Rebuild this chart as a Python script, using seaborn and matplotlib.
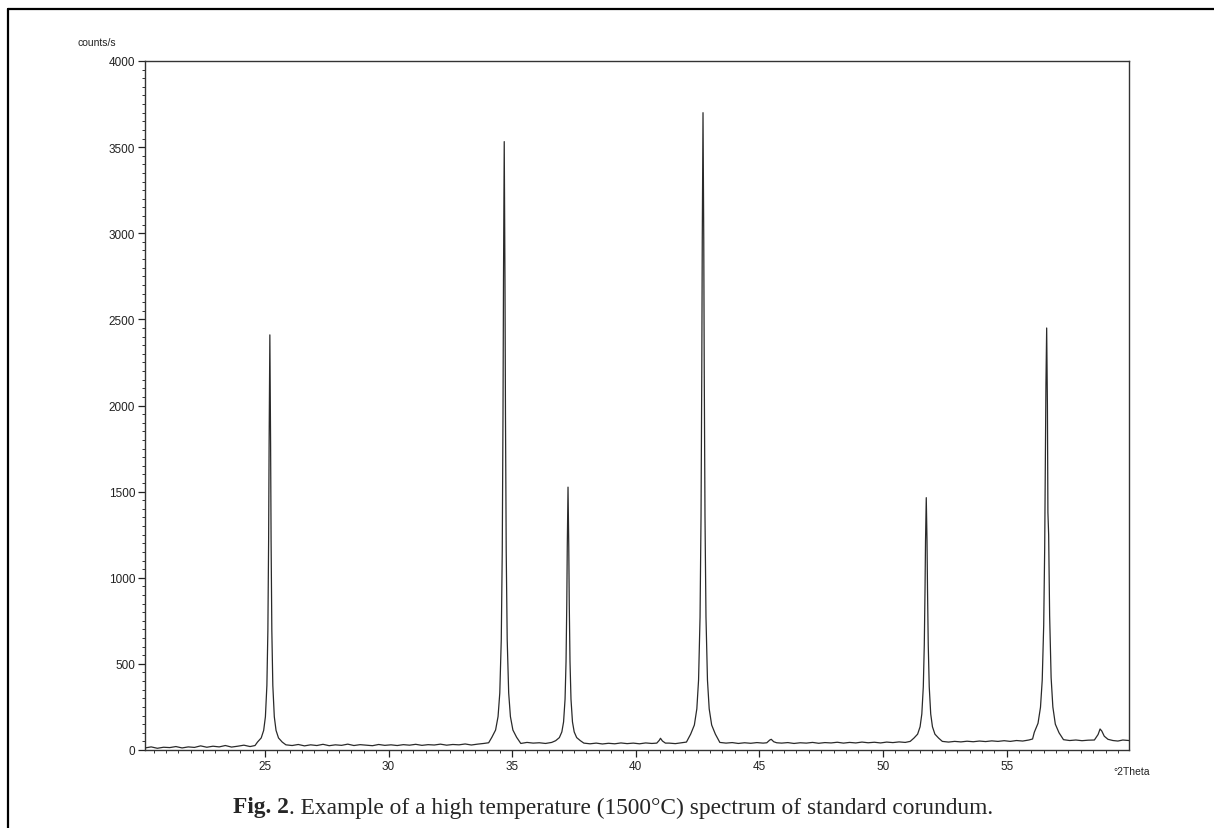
import pandas as pd
import numpy as np
import matplotlib
matplotlib.use('Agg')
import matplotlib.pyplot as plt
import seaborn as sns
from matplotlib.ticker import MultipleLocator
from matplotlib.lines import Line2D

sns.set_style("ticks")
plt.rcParams['font.family'] = ['Liberation Sans', 'DejaVu Sans']

# baseline stretches between the reflections (deg 2theta, counts/s)
base_a_x = [20.15, 20.4, 20.65, 20.9, 21.15, 21.4, 21.65, 21.9, 22.15, 22.4, 22.65, 22.9,
            23.15, 23.4, 23.65, 23.9, 24.15, 24.4, 24.6]
base_a_y = [12, 18, 10, 16, 14, 20, 12, 18, 15, 24, 16, 22, 18, 26, 17, 22, 28, 20, 26]

base_b_x = [25.85, 26.1, 26.35, 26.6, 26.85, 27.1, 27.35, 27.6, 27.85, 28.1, 28.35, 28.6,
            28.85, 29.1, 29.35, 29.6, 29.85, 30.1, 30.35, 30.6, 30.85, 31.1, 31.35, 31.6,
            31.85, 32.1, 32.35, 32.6, 32.85, 33.1, 33.35, 33.6, 33.85, 34.05]
base_b_y = [30, 26, 32, 24, 30, 26, 33, 25, 30, 27, 34, 26, 31, 28, 25, 32, 27, 30, 26, 31,
            28, 33, 27, 31, 29, 34, 28, 32, 30, 35, 29, 34, 38, 42]

base_c_x = [35.35, 35.6, 35.85, 36.1, 36.35, 36.6]
base_c_y = [38, 44, 40, 42, 38, 44]

base_d_x = [37.9, 38.15, 38.4, 38.65, 38.9, 39.15, 39.4, 39.65, 39.9, 40.15, 40.4, 40.65,
            40.85, 40.95, 41.0, 41.08, 41.2, 41.35, 41.6, 41.85, 42.05]
base_d_y = [40, 36, 40, 35, 39, 36, 41, 37, 40, 36, 41, 38, 40, 56, 68, 52, 40, 40, 37, 42, 46]

base_e_x = [43.4, 43.65, 43.9, 44.15, 44.4, 44.65, 44.9, 45.15, 45.3, 45.42, 45.48, 45.58,
            45.7, 45.9, 46.15, 46.4, 46.65, 46.9, 47.15, 47.4, 47.65, 47.9, 48.15, 48.4,
            48.65, 48.9, 49.15, 49.4, 49.65, 49.9, 50.15, 50.4, 50.65, 50.9, 51.1]
base_e_y = [44, 40, 43, 38, 42, 39, 43, 40, 42, 58, 62, 48, 42, 40, 43, 38, 42, 40, 44, 39,
            43, 41, 45, 40, 44, 41, 46, 42, 45, 41, 46, 43, 47, 44, 50]

base_f_x = [52.4, 52.65, 52.9, 53.15, 53.4, 53.65, 53.9, 54.15, 54.4, 54.65, 54.9, 55.15,
            55.4, 55.65, 55.9, 56.05]
base_f_y = [50, 46, 50, 47, 51, 48, 52, 49, 53, 50, 54, 50, 55, 52, 58, 64]

base_g_x = [57.3, 57.55, 57.8, 58.05, 58.3, 58.55, 58.7, 58.78, 58.85, 58.95, 59.1, 59.3,
            59.5, 59.7, 59.95]
base_g_y = [60, 55, 58, 54, 57, 58, 90, 122, 110, 80, 62, 55, 52, 58, 55]

# corundum reflections, profile read across each peak
peak1_x = [24.70, 24.85, 24.95, 25.02, 25.08, 25.12, 25.15, 25.17, 25.20, 25.23, 25.25,
           25.28, 25.32, 25.38, 25.45, 25.55, 25.70]
peak1_y = [46, 70, 114, 193, 375, 693, 1216, 1778, 2410, 1778, 1216, 693, 375, 193, 114, 70, 46]

peak2_x = [34.18, 34.33, 34.43, 34.50, 34.56, 34.60, 34.63, 34.65, 34.68, 34.71, 34.73,
           34.76, 34.80, 34.86, 34.93, 35.03, 35.18]
peak2_y = [74, 116, 194, 331, 640, 1156, 1949, 2729, 3532, 2729, 1949, 1156, 640, 331, 194, 116, 74]

peak3_x = [36.76, 36.91, 37.01, 37.08, 37.14, 37.18, 37.21, 37.23, 37.26, 37.29, 37.31,
           37.34, 37.38, 37.44, 37.51, 37.61, 37.76]
peak3_y = [54, 72, 105, 163, 295, 514, 852, 1184, 1526, 1184, 852, 514, 295, 163, 105, 72, 54]

peak4_x = [42.22, 42.37, 42.47, 42.54, 42.60, 42.64, 42.67, 42.69, 42.72, 42.75, 42.77,
           42.80, 42.84, 42.90, 42.97, 43.07, 43.22]
peak4_y = [92, 145, 239, 406, 772, 1358, 2199, 2968, 3700, 2968, 2199, 1358, 772, 406, 239, 145, 92]

peak5_x = [51.25, 51.40, 51.50, 51.57, 51.63, 51.67, 51.70, 51.72, 51.75, 51.78, 51.80,
           51.83, 51.87, 51.93, 52.00, 52.10, 52.25]
peak5_y = [69, 92, 135, 209, 367, 610, 937, 1215, 1465, 1215, 937, 610, 367, 209, 135, 92, 69]

peak6_x = [56.12, 56.27, 56.37, 56.44, 56.50, 56.54, 56.57, 56.59, 56.62, 56.65, 56.67,
           56.70, 56.74, 56.80, 56.87, 56.97, 57.12]
peak6_y = [103, 155, 248, 405, 724, 1173, 1711, 2119, 2450, 2000, 1380, 1250, 780, 420, 250, 150, 100]

y_ticks = [0, 500, 1000, 1500, 2000, 2500, 3000, 3500, 4000]
x_ticks = [25, 30, 35, 40, 45, 50, 55]

xs = (base_a_x + peak1_x + base_b_x + peak2_x + base_c_x + peak3_x + base_d_x + peak4_x
      + base_e_x + peak5_x + base_f_x + peak6_x + base_g_x)
ys = (base_a_y + peak1_y + base_b_y + peak2_y + base_c_y + peak3_y + base_d_y + peak4_y
      + base_e_y + peak5_y + base_f_y + peak6_y + base_g_y)
df = pd.DataFrame({'two_theta': xs, 'counts': ys}).sort_values('two_theta')

fig = plt.figure(figsize=(12.14, 8.29), dpi=100)
ax = fig.add_axes([145 / 1214, 1 - 751 / 829, (1129 - 145) / 1214, (751 - 62) / 829])

sns.lineplot(data=df, x='two_theta', y='counts', ax=ax, color='#2a2a2a',
             linewidth=0.9, estimator=None, sort=True)

ax.set_xlim(20.15, 59.95)
ax.set_ylim(0, 4000)
ax.set_xlabel('')
ax.set_ylabel('')

ax.yaxis.set_minor_locator(MultipleLocator(50))
ax.set_yticks(y_ticks)
ax.set_yticklabels([str(v) for v in y_ticks])
ax.xaxis.set_minor_locator(MultipleLocator(0.5))
ax.set_xticks(x_ticks)
ax.set_xticklabels([str(v) for v in x_ticks])

ax.tick_params(axis='both', which='major', direction='out', length=5, width=0.9,
               labelsize=8.5, colors='#222222', pad=2)
ax.tick_params(axis='both', which='minor', direction='out', length=2.5, width=0.7,
               colors='#333333')
for s in ax.spines.values():
    s.set_linewidth(1.0)
    s.set_color('#333333')

fig.text(78 / 1214, 1 - 43 / 829, 'counts/s', fontsize=7.5, color='#222222', va='center')
fig.text(1150 / 1214, 1 - 772 / 829, '°2Theta', fontsize=7.5, color='#222222',
         va='center', ha='right')

# caption with bold figure number
fig.canvas.draw()
r = fig.canvas.get_renderer()
cap_y = 1 - 808 / 829
serif = ['Liberation Serif', 'DejaVu Serif']
t1 = fig.text(0, cap_y, 'Fig. 2', fontsize=16.8, fontweight='bold', family=serif, va='center')
t2 = fig.text(0, cap_y, '. Example of a high temperature (1500°C) spectrum of standard corundum.',
              fontsize=16.8, family=serif, va='center')
w1 = t1.get_window_extent(r).width
w2 = t2.get_window_extent(r).width
x0 = (613 - (w1 + w2) / 2)
t1.set_x(x0 / 1214)
t2.set_x((x0 + w1) / 1214)

# scanned page frame
fig.add_artist(Line2D([8 / 1214, 1.0], [1 - 10 / 829, 1 - 10 / 829], color='black',
                      linewidth=1.6, transform=fig.transFigure))
fig.add_artist(Line2D([8 / 1214, 8 / 1214], [0.0, 1 - 10 / 829], color='black',
                      linewidth=1.6, transform=fig.transFigure))

fig.savefig('out.png', dpi=100)
